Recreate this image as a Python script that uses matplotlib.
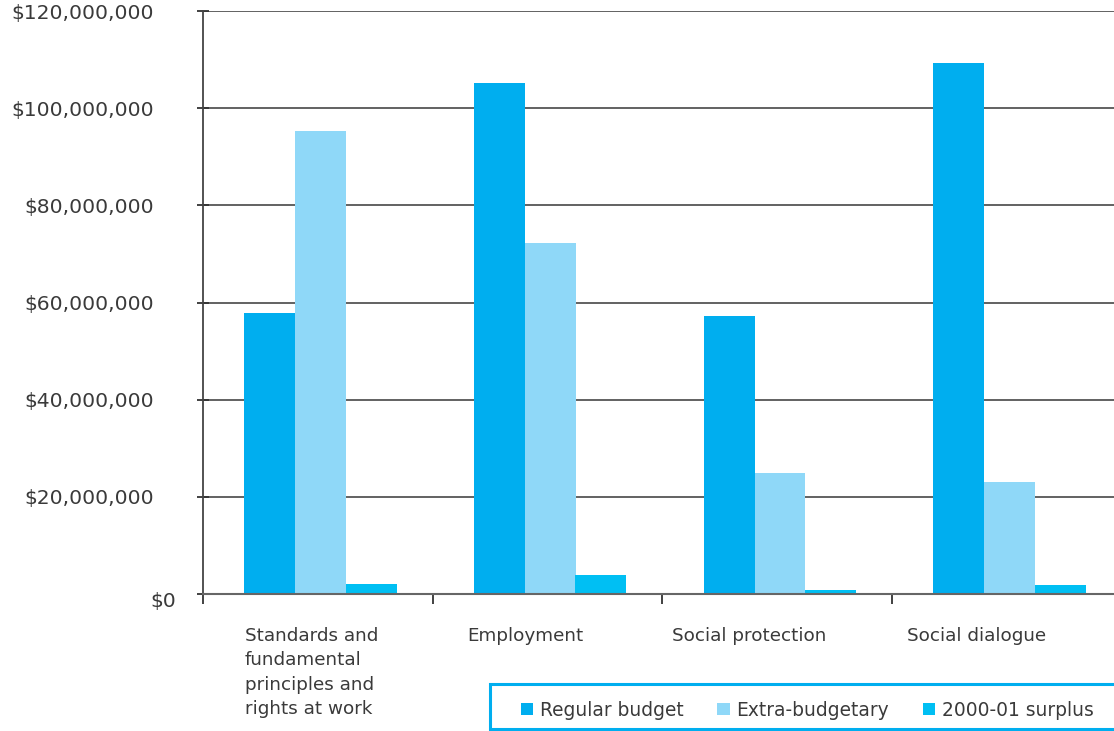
import numpy as np
import matplotlib.pyplot as plt
import matplotlib.transforms as mtransforms
from matplotlib.patches import Rectangle
from matplotlib.ticker import FuncFormatter

# Data
categories = ['Standards and\nfundamental\nprinciples and\nrights at work',
              'Employment', 'Social protection', 'Social dialogue']
regular_budget = [57.8e6, 105.2e6, 57.2e6, 109.3e6]
extra_budgetary = [95.3e6, 72.3e6, 24.9e6, 23.1e6]
surplus_2000_01 = [2.0e6, 3.9e6, 0.8e6, 1.9e6]
series_names = ['Regular budget', 'Extra-budgetary', '2000-01 surplus']
colors = ['#00AEEF', '#8FD8F8', '#00BFF3']

plt.rcParams['font.family'] = ['DejaVu Sans']
text_col = '#3a3a3a'

fig = plt.figure(figsize=(11.14, 7.31), dpi=100)
ax = fig.add_axes([0.1822, 0.1874, 0.8178, 0.7975])

x = np.arange(len(categories))
width = 0.222
offsets = [-0.21, 0.012, 0.232]
series = [regular_budget, extra_budgetary, surplus_2000_01]
handles = []
for vals, off, col, name in zip(series, offsets, colors, series_names):
    b = ax.bar(x + off, vals, width, color=col, label=name, zorder=2)
    handles.append(b)

ax.set_xlim(-0.5, 3.466)
ax.set_ylim(0, 120e6)
ax.set_yticks(np.arange(0, 120e6 + 1, 20e6))
ax.yaxis.set_major_formatter(FuncFormatter(lambda v, p: f'${v:,.0f}'))
ax.yaxis.grid(True, color='#555555', linewidth=1.3, zorder=1)

for s in ['top', 'right']:
    ax.spines[s].set_visible(False)
ax.spines['left'].set_color('#444444')
ax.spines['left'].set_linewidth(1.3)
ax.spines['bottom'].set_color('#666666')
ax.spines['bottom'].set_linewidth(1.5)
ax.spines['bottom'].set_zorder(3)

ax.tick_params(axis='y', direction='inout', length=8, width=1.3,
               color='#333333', labelsize=14.6, labelcolor=text_col, pad=31)
fig.canvas.draw()
ylabels = ax.get_yticklabels()
zero_lab = ylabels[0]
zero_lab.set_transform(zero_lab.get_transform() +
                       mtransforms.ScaledTranslation(22 / 100, -5 / 100,
                                                     fig.dpi_scale_trans))

# group boundary ticks on x axis
ax.set_xticks(np.arange(-0.5, 3.5, 1.0))
ax.set_xticklabels([])
ax.tick_params(axis='x', length=7, width=1.3, color='#333333')

# category labels, left aligned under each group
label_offsets = [0.183, 0.152, 0.04, 0.065]
for i, (cat, lo) in enumerate(zip(categories, label_offsets)):
    ax.text(i - 0.5 + lo, -0.056, cat, transform=ax.get_xaxis_transform(),
            ha='left', va='top', fontsize=13.2, color=text_col,
            linespacing=1.47)

# legend box
fig.patches.append(Rectangle((490 / 1114, 0.003), 0.6, 45 / 731,
                             transform=fig.transFigure, facecolor='white',
                             edgecolor='#00AEEF', linewidth=2.2))
fig.legend(handles=handles, labels=series_names, loc='center left',
           bbox_to_anchor=(521 / 1114, 21 / 731), ncol=3, frameon=False,
           fontsize=13.4, handlelength=0.65, handleheight=0.65,
           handletextpad=0.38, columnspacing=1.8, labelcolor=text_col,
           borderaxespad=0, borderpad=0)

fig.savefig('out.png', dpi=100)
